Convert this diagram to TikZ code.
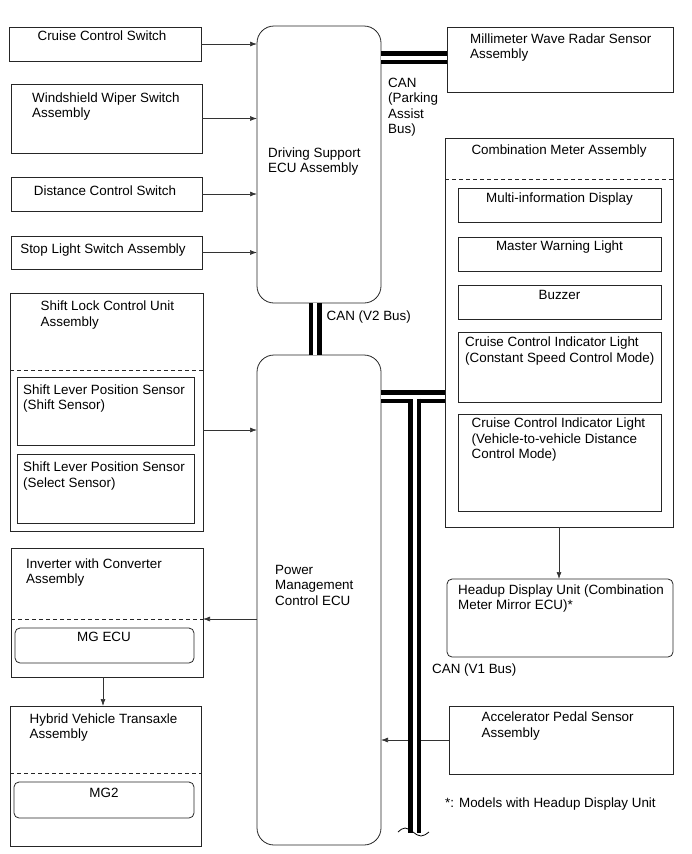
\documentclass[tikz,border=0pt]{standalone}
\usepackage{fontspec}
\setmainfont{Liberation Sans}
\usetikzlibrary{positioning, arrows.meta, calc}

\begin{document}
\begin{tikzpicture}[x=1pt, y=-1pt, font=\fontsize{13.4}{15.6}\selectfont,
  unit/.style={draw=black!85, line width=0.8pt, inner sep=0pt, outer sep=0pt, anchor=north west},
  ecu/.style={unit, rounded corners=17pt},
  sub/.style={unit, rounded corners=5pt},
  txt/.style={inner sep=0pt, anchor=base west, align=left},
  ctxt/.style={inner sep=0pt, anchor=base},
  cut/.style={draw=black!85, line width=0.8pt, dash pattern=on 4pt off 3pt},
  arr/.style={draw=black!80, line width=0.7pt, -{Latex[length=7pt, width=5pt]}},
  bus/.style={draw=black, line width=4.5pt, double=white, double distance=4pt}]
  \useasboundingbox (0,0) rectangle (691,854);

  % switches feeding the driving support ECU (text nodes sit on their last baseline)
  \node[unit, minimum width=192, minimum height=34] (ccsw) at (9,27) {};
  \node[ctxt] (ccsw-t) at (102,40) {Cruise Control Switch};
  \node[unit, minimum width=191, minimum height=69] (wiper) at (11,84) {};
  \node[txt] (wiper-t) at (32,117.6) {Windshield Wiper Switch\\Assembly};
  \node[unit, minimum width=191, minimum height=34] (dist) at (11,177) {};
  \node[ctxt] (dist-t) at (105,195) {Distance Control Switch};
  \node[unit, minimum width=191, minimum height=33] (stop) at (11,236) {};
  \node[ctxt] (stop-t) at (103,253) {Stop Light Switch Assembly};

  \node[ecu, minimum width=124, minimum height=277] (dsecu) at (257,26) {};
  \node[txt] (dsecu-t) at (268,172.6) {Driving Support\\ECU Assembly};

  \node[unit, minimum width=226, minimum height=65] (radar) at (447,27) {};
  \node[txt] (radar-t) at (470,58.6) {Millimeter Wave Radar Sensor\\Assembly};
  \node[txt] (can-p) at (388,133.8) {CAN\\(Parking\\Assist\\Bus)};

  % shift lock
  \node[unit, minimum width=193, minimum height=238] (slcu) at (10,293) {};
  \node[txt] (slcu-t) at (40.5,326.1) {Shift Lock Control Unit\\Assembly};
  \coordinate (slcu-cut) at (10,370);
  \draw[cut] (slcu-cut) -- (slcu-cut -| slcu.east);
  \node[unit, minimum width=177, minimum height=68] (shift) at (17,377) {};
  \node[txt] (shift-t) at (23,409.6) {Shift Lever Position Sensor\\(Shift Sensor)};
  \node[unit, minimum width=177, minimum height=69] (select) at (17,454) {};
  \node[txt] (select-t) at (23,487.1) {Shift Lever Position Sensor\\(Select Sensor)};

  \node[ecu, minimum width=124, minimum height=490] (pmecu) at (257,355) {};
  \node[txt] (pmecu-t) at (275,605.2) {Power\\Management\\Control ECU};
  \node[txt] (can-v2) at (326.5,320.5) {CAN (V2 Bus)};

  % combination meter
  \node[unit, minimum width=228, minimum height=389] (meter) at (445,138) {};
  \node[ctxt] (meter-t) at (559,154) {Combination Meter Assembly};
  \coordinate (meter-cut) at (445,179);
  \draw[cut] (meter-cut) -- (meter-cut -| meter.east);
  \node[unit, minimum width=203, minimum height=34] (mid) at (458,188) {};
  \node[ctxt] (mid-t) at (559.5,202.5) {Multi-information Display};
  \node[unit, minimum width=203, minimum height=34] (mwl) at (458,237) {};
  \node[ctxt] (mwl-t) at (559.5,250.5) {Master Warning Light};
  \node[unit, minimum width=203, minimum height=34] (buzz) at (458,285) {};
  \node[ctxt] (buzz-t) at (559.5,299) {Buzzer};
  \node[unit, minimum width=203, minimum height=70] (ccil1) at (458,332) {};
  \node[txt] (ccil1-t) at (465,362.1) {Cruise Control Indicator Light\\(Constant Speed Control Mode)};
  \node[unit, minimum width=203, minimum height=97] (ccil2) at (458,414) {};
  \node[txt] (ccil2-t) at (471.5,458.7) {Cruise Control Indicator Light\\(Vehicle-to-vehicle Distance\\Control Mode)};

  \node[sub, minimum width=226, minimum height=78] (hud) at (447,579) {};
  \node[txt] (hud-t) at (458,609.6) {Headup Display Unit (Combination\\Meter Mirror ECU)*};
  \node[txt] (can-v1) at (432,673) {CAN (V1 Bus)};

  % hybrid side
  \node[unit, minimum width=192, minimum height=129] (inv) at (11,548) {};
  \node[txt] (inv-t) at (26,583.6) {Inverter with Converter\\Assembly};
  \coordinate (inv-cut) at (11,619);
  \draw[cut] (inv-cut) -- (inv-cut -| inv.east);
  \node[sub, minimum width=179, minimum height=35] (mgecu) at (15,628) {};
  \node[ctxt] (mgecu-t) at (104,641.5) {MG ECU};

  \node[unit, minimum width=191, minimum height=140] (hvt) at (10,706) {};
  \node[txt] (hvt-t) at (29.5,738.6) {Hybrid Vehicle Transaxle\\Assembly};
  \coordinate (hvt-cut) at (10,773);
  \draw[cut] (hvt-cut) -- (hvt-cut -| hvt.east);
  \node[sub, minimum width=180, minimum height=36] (mg2) at (14,782) {};
  \node[ctxt] (mg2-t) at (104,797) {MG2};

  \node[unit, minimum width=224, minimum height=68] (apsa) at (449,706) {};
  \node[txt] (apsa-t) at (481.5,737.1) {Accelerator Pedal Sensor\\Assembly};
  \node[txt] (note) at (445,807) {*: Models with Headup Display Unit};

  \draw[arr] (ccsw.east) -- (ccsw.east -| dsecu.west);
  \draw[arr] (wiper.east) -- (wiper.east -| dsecu.west);
  \draw[arr] (dist.east) -- (dist.east -| dsecu.west);
  \draw[arr] (stop.east) -- (stop.east -| dsecu.west);
  \draw[arr] ([yshift=-18pt]slcu.east) -- ([yshift=-18pt]slcu.east -| pmecu.west);
  \draw[arr] (inv-cut -| pmecu.west) -- (inv-cut -| inv.east);
  \draw[arr] ([xshift=-4pt]inv.south) -- ([xshift=-4pt]inv.south |- hvt.north);
  \draw[arr] (meter.south) -- (meter.south |- hud.north);
  \draw[arr] (apsa.west) -- (apsa.west -| pmecu.east);

  \draw[bus] ([yshift=2pt]radar.west) -- ([yshift=2pt]radar.west -| dsecu.east);
  \draw[bus] ([xshift=-4pt]dsecu.south) -- ([xshift=-4pt]pmecu.north);
  \coordinate (v1) at (414.5,396.5);
  \coordinate (v1-end) at (414.5,833);
  \draw[bus] (v1 -| pmecu.east) -- (v1 -| meter.west);
  \draw[bus] ([yshift=-2pt]v1) -- (v1-end);
  \draw[line width=0.8pt] (398,832) sin (405,828) cos (413,832) sin (421,836) cos (429,832);
\end{tikzpicture}
\end{document}
